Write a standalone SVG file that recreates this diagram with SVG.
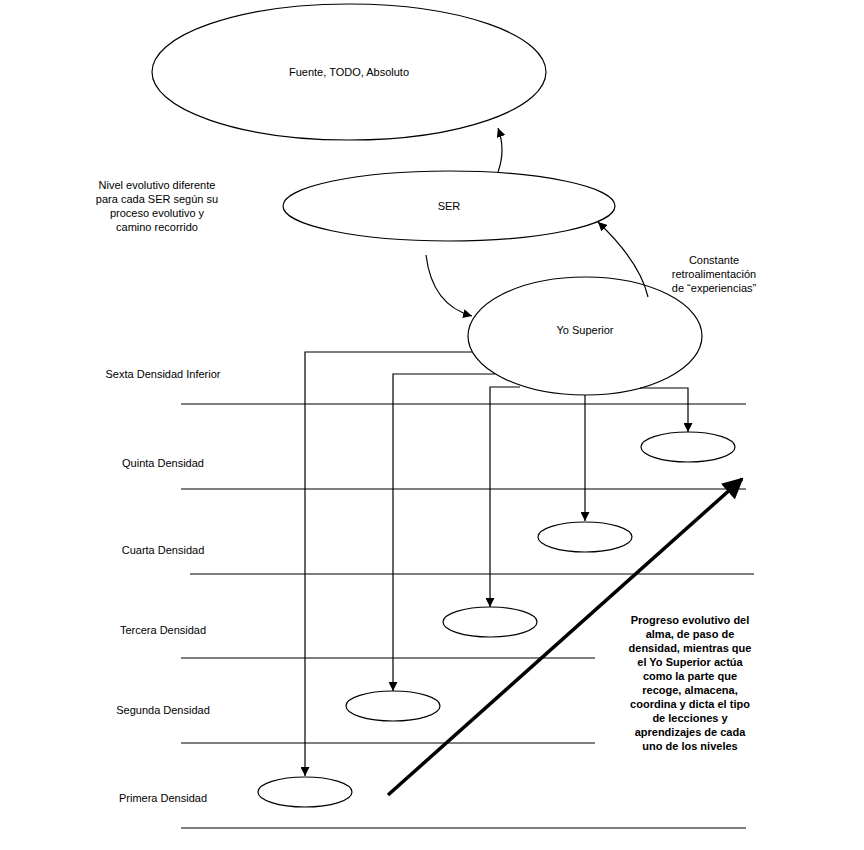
<svg xmlns="http://www.w3.org/2000/svg" width="864" height="850" viewBox="0 0 864 850">
<style>
.n{fill:#fff;stroke:#000;stroke-width:1.2}
.l{stroke:#000;stroke-width:1.2;fill:none}
text{font-family:"Liberation Sans",Arial,sans-serif;font-size:11px;fill:#000;text-anchor:middle}
.b{font-weight:bold}
</style>
<defs>
<marker id="a" viewBox="0 0 10 10" refX="10" refY="5" markerWidth="9" markerHeight="9" markerUnits="userSpaceOnUse" orient="auto"><path d="M0,0L10,5L0,10z"/></marker>
<marker id="ab" viewBox="0 0 10 10" refX="9" refY="5" markerWidth="6" markerHeight="6" orient="auto"><path d="M0,0L10,5L0,10z"/></marker>
</defs>
<rect width="864" height="850" fill="#fff"/>
<g id="levels" class="l">
<line x1="181" y1="404" x2="746" y2="404"/>
<line x1="181" y1="489" x2="746" y2="489"/>
<line x1="190" y1="574" x2="754" y2="574"/>
<line x1="181" y1="658" x2="595" y2="658"/>
<line x1="181" y1="743" x2="595" y2="743"/>
<line x1="181" y1="828" x2="746" y2="828"/>
</g>
<g id="fuente"><ellipse class="n" cx="349" cy="72" rx="197" ry="68"/><text x="349" y="76">Fuente, TODO, Absoluto</text></g>
<g id="ser"><ellipse class="n" cx="449" cy="206" rx="166" ry="35"/><text x="449" y="210">SER</text></g>
<g id="connectors" class="l">
<path d="M498,172 Q506,150 498,128" marker-end="url(#a)"/>
<path d="M426,255 Q432,305 472,316" marker-end="url(#a)"/>
<path d="M648,297 Q640,262 598,222" marker-end="url(#a)"/>
<path d="M472,352 H305 V776" marker-end="url(#a)"/>
<path d="M495,374 H393 V691" marker-end="url(#a)"/>
<path d="M520,387 H490 V607" marker-end="url(#a)"/>
<path d="M585,395 V521" marker-end="url(#a)"/>
<path d="M640,388 H688 V432" marker-end="url(#a)"/>
<line x1="388" y1="795" x2="742" y2="479" stroke-width="3.5" marker-end="url(#ab)"/>
</g>
<g id="yo"><ellipse class="n" cx="585" cy="336" rx="117" ry="59" fill-opacity="0"/><text x="585" y="334">Yo Superior</text></g>
<g id="d6"><ellipse class="n" cx="688" cy="447" rx="47" ry="15"/></g>
<g id="d4"><ellipse class="n" cx="585" cy="537" rx="47" ry="15"/></g>
<g id="d3"><ellipse class="n" cx="490" cy="622" rx="47" ry="15"/></g>
<g id="d2"><ellipse class="n" cx="393" cy="706" rx="47" ry="15"/></g>
<g id="d1"><ellipse class="n" cx="305" cy="792" rx="47" ry="15"/></g>
<g id="labels">
<text x="163" y="378">Sexta Densidad Inferior</text>
<text x="163" y="467">Quinta Densidad</text>
<text x="163" y="554">Cuarta Densidad</text>
<text x="163" y="634">Tercera Densidad</text>
<text x="163" y="714">Segunda Densidad</text>
<text x="163" y="802">Primera Densidad</text>
<text x="157" y="189">Nivel evolutivo diferente</text>
<text x="157" y="203">para cada SER según su</text>
<text x="157" y="217">proceso evolutivo y</text>
<text x="157" y="231">camino recorrido</text>
<text x="714" y="264">Constante</text>
<text x="714" y="278">retroalimentación</text>
<text x="714" y="292">de “experiencias”</text>
<g class="b">
<text x="690" y="624">Progreso evolutivo del</text>
<text x="690" y="638">alma, de paso de</text>
<text x="690" y="652">densidad, mientras que</text>
<text x="690" y="666">el Yo Superior actúa</text>
<text x="690" y="680">como la parte que</text>
<text x="690" y="694">recoge, almacena,</text>
<text x="690" y="708">coordina y dicta el tipo</text>
<text x="690" y="722">de lecciones y</text>
<text x="690" y="736">aprendizajes de cada</text>
<text x="690" y="750">uno de los niveles</text>
</g>
</g>
</svg>
